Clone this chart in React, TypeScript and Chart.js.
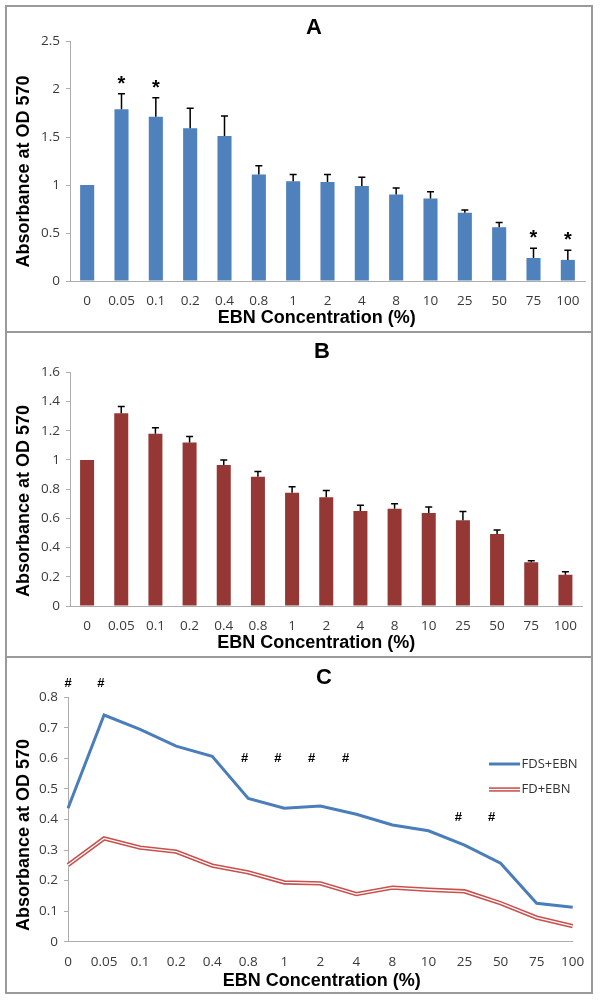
import React, { useEffect, useRef } from "react";
import { Chart, registerables } from "chart.js";
Chart.register(...registerables);

// ---------- data ----------
const categories = ["0", "0.05", "0.1", "0.2", "0.4", "0.8", "1", "2", "4", "8", "10", "25", "50", "75", "100"];

const valuesA = [1.0, 1.79, 1.71, 1.59, 1.51, 1.11, 1.04, 1.03, 0.99, 0.9, 0.86, 0.71, 0.56, 0.24, 0.22];
const errorsA = [0, 0.16, 0.2, 0.21, 0.21, 0.09, 0.07, 0.08, 0.09, 0.07, 0.07, 0.03, 0.05, 0.1, 0.1];
const starIndexA = [1, 2, 13, 14];
const yTicksA = [0, 0.5, 1, 1.5, 2, 2.5];

const valuesB = [1.0, 1.32, 1.18, 1.12, 0.965, 0.885, 0.775, 0.745, 0.65, 0.665, 0.637, 0.587, 0.493, 0.3, 0.214];
const errorsB = [0, 0.045, 0.04, 0.04, 0.035, 0.035, 0.042, 0.045, 0.04, 0.035, 0.04, 0.06, 0.027, 0.01, 0.021];
const yTicksB = [0, 0.2, 0.4, 0.6, 0.8, 1, 1.2, 1.4, 1.6];

const fdsEbn = [0.437, 0.742, 0.695, 0.64, 0.607, 0.469, 0.437, 0.444, 0.417, 0.382, 0.363, 0.316, 0.257, 0.126, 0.113];
const fdEbn = [0.251, 0.338, 0.308, 0.295, 0.249, 0.227, 0.194, 0.191, 0.156, 0.177, 0.17, 0.165, 0.126, 0.079, 0.051];
const hashX = [0, 0.91, 4.9, 5.82, 6.76, 7.7, 10.83, 11.75];
const hashY = [0.847, 0.847, 0.6, 0.6, 0.6, 0.6, 0.407, 0.407];
const yTicksC = [0, 0.1, 0.2, 0.3, 0.4, 0.5, 0.6, 0.7, 0.8];
const seriesNamesC = ["FDS+EBN", "FD+EBN"];

// ---------- styles ----------
const W = 600;
const AXIS = "#ADADAD";
const TICK = "#3a3a3a";
const FONT_TICK = '"Open Sans", sans-serif';
const FONT_BOLD = '"Liberation Sans", Arial, sans-serif';
const BLUE_BAR = "#4F81BD";
const RED_BAR = "#953735";
const BLUE_LINE = "#4A7EBB";
const RED_LINE = "#C8504D";

type Area = { left: number; right: number; top: number; bottom: number };

function xScale(H: number, area: Area, offset: boolean) {
  return {
    type: "category",
    offset,
    grid: { display: false, drawTicks: false },
    border: { display: true, color: AXIS, width: 1 },
    ticks: {
      color: TICK,
      font: { family: FONT_TICK, size: 13.5 },
      padding: 12.4,
      maxRotation: 0,
      autoSkip: false,
    },
    afterFit: (s: any) => {
      s.height = H - area.bottom;
    },
  };
}

function yScale(ticks: number[], area: Area) {
  return {
    type: "linear",
    min: ticks[0],
    max: ticks[ticks.length - 1],
    grid: { display: true, drawOnChartArea: false, drawTicks: true, tickLength: 4, color: AXIS },
    border: { display: true, color: AXIS, width: 1 },
    ticks: {
      color: TICK,
      font: { family: FONT_TICK, size: 13.5 },
      padding: 6,
      callback: (v: any) => String(Math.round(Number(v) * 1000) / 1000),
    },
    afterBuildTicks: (s: any) => {
      s.ticks = ticks.map((v) => ({ value: v }));
    },
    afterFit: (s: any) => {
      s.width = area.left;
    },
  };
}

function textPlugin(letter: string, lx: number, ly: number, yTitleY: number, xTitleX: number, xTitleY: number) {
  return {
    id: "texts" + letter,
    afterDraw(chart: any) {
      const ctx = chart.ctx;
      ctx.save();
      ctx.fillStyle = "#000";
      ctx.textAlign = "center";
      ctx.textBaseline = "middle";
      ctx.font = `bold 22px ${FONT_BOLD}`;
      ctx.fillText(letter, lx, ly);
      ctx.font = `bold 18px ${FONT_BOLD}`;
      ctx.fillText("EBN Concentration (%)", xTitleX, xTitleY);
      ctx.translate(24, yTitleY);
      ctx.rotate(-Math.PI / 2);
      ctx.fillText("Absorbance at OD 570", 0, 0);
      ctx.restore();
    },
  };
}

function errorPlugin(values: number[], errors: number[], stars: number[]) {
  return {
    id: "errbars",
    afterDatasetsDraw(chart: any) {
      const ctx = chart.ctx;
      const y = chart.scales.y;
      const meta = chart.getDatasetMeta(0);
      ctx.save();
      ctx.strokeStyle = "#000";
      ctx.lineWidth = 1.5;
      meta.data.forEach((bar: any, i: number) => {
        const e = errors[i];
        const top = y.getPixelForValue(values[i] + e);
        if (e > 0) {
          const base = y.getPixelForValue(values[i]);
          ctx.beginPath();
          ctx.moveTo(bar.x, base);
          ctx.lineTo(bar.x, top);
          ctx.moveTo(bar.x - 3.5, top);
          ctx.lineTo(bar.x + 3.5, top);
          ctx.stroke();
        }
        if (stars.includes(i)) {
          ctx.fillStyle = "#000";
          ctx.font = `bold 20px ${FONT_BOLD}`;
          ctx.textAlign = "center";
          ctx.textBaseline = "alphabetic";
          ctx.fillText("*", bar.x, top - 4);
        }
      });
      ctx.restore();
    },
  };
}

const hashPlugin = {
  id: "hashes",
  afterDatasetsDraw(chart: any) {
    const ctx = chart.ctx;
    const x = chart.scales.x;
    const y = chart.scales.y;
    ctx.save();
    ctx.fillStyle = "#000";
    ctx.font = `bold 13px ${FONT_BOLD}`;
    ctx.textAlign = "center";
    ctx.textBaseline = "middle";
    hashX.forEach((hx, i) => {
      ctx.fillText("#", x.getPixelForValue(hx), y.getPixelForValue(hashY[i]));
    });
    ctx.restore();
  },
};

const legendPlugin = {
  id: "legendC",
  afterDraw(chart: any) {
    const ctx = chart.ctx;
    ctx.save();
    const rows = [107, 132.5];
    ctx.lineCap = "butt";
    ctx.strokeStyle = BLUE_LINE;
    ctx.lineWidth = 3;
    ctx.beginPath();
    ctx.moveTo(489, rows[0]);
    ctx.lineTo(520, rows[0]);
    ctx.stroke();
    ctx.strokeStyle = RED_LINE;
    ctx.lineWidth = 4.4;
    ctx.beginPath();
    ctx.moveTo(489, rows[1]);
    ctx.lineTo(520, rows[1]);
    ctx.stroke();
    ctx.strokeStyle = "#fff";
    ctx.lineWidth = 1.3;
    ctx.beginPath();
    ctx.moveTo(489, rows[1]);
    ctx.lineTo(520, rows[1]);
    ctx.stroke();
    ctx.fillStyle = "#333";
    ctx.font = `13px ${FONT_TICK}`;
    ctx.textAlign = "left";
    ctx.textBaseline = "middle";
    ctx.fillText(seriesNamesC[0], 521.5, rows[0]);
    ctx.fillText(seriesNamesC[1], 521.5, rows[1]);
    ctx.restore();
  },
};

function barConfig(H: number, area: Area, values: number[], errors: number[], stars: number[], color: string, yTicks: number[], letter: string, lx: number, ly: number, yTitleY: number, xTitleX: number, xTitleY: number) {
  return {
    type: "bar",
    data: {
      labels: categories,
      datasets: [
        {
          data: values,
          backgroundColor: color,
          borderWidth: 0,
          barPercentage: 0.41,
          categoryPercentage: 1,
        },
      ],
    },
    options: {
      responsive: false,
      animation: false,
      events: [],
      layout: { padding: { left: 0, top: area.top, right: W - area.right, bottom: 0 } },
      plugins: { legend: { display: false }, tooltip: { enabled: false }, title: { display: false } },
      scales: { x: xScale(H, area, true), y: yScale(yTicks, area) },
    },
    plugins: [errorPlugin(values, errors, stars), textPlugin(letter, lx, ly, yTitleY, xTitleX, xTitleY)],
  };
}

function lineConfig(H: number, area: Area) {
  return {
    type: "line",
    data: {
      labels: categories,
      datasets: [
        {
          label: seriesNamesC[1] + " inner",
          data: fdEbn,
          borderColor: "#fff",
          borderWidth: 1.3,
          pointRadius: 0,
          tension: 0,
          fill: false,
          order: 0,
        },
        {
          label: seriesNamesC[1],
          data: fdEbn,
          borderColor: RED_LINE,
          borderWidth: 4.4,
          pointRadius: 0,
          tension: 0,
          fill: false,
          order: 1,
        },
        {
          label: seriesNamesC[0],
          data: fdsEbn,
          borderColor: BLUE_LINE,
          borderWidth: 3,
          pointRadius: 0,
          tension: 0,
          fill: false,
          order: 2,
        },
      ],
    },
    options: {
      responsive: false,
      animation: false,
      events: [],
      layout: { padding: { left: 0, top: area.top, right: W - area.right, bottom: 0 } },
      plugins: { legend: { display: false }, tooltip: { enabled: false }, title: { display: false } },
      scales: { x: xScale(H, area, false), y: yScale(yTicksC, area) },
    },
    plugins: [hashPlugin, legendPlugin, textPlugin("C", 324, 21.3, 178, 321.7, 324)],
  };
}

function ChartCanvas({ top, height, make }: { top: number; height: number; make: () => any }) {
  const ref = useRef<HTMLCanvasElement | null>(null);
  useEffect(() => {
    if (!ref.current) return;
    const chart = new Chart(ref.current, make());
    return () => chart.destroy();
  }, []);
  return (
    <canvas
      ref={ref}
      width={W}
      height={height}
      style={{ position: "absolute", left: 0, top, width: W, height }}
    />
  );
}

const boxStyle = (top: number, height: number): React.CSSProperties => ({
  position: "absolute",
  left: 5,
  top,
  width: 588,
  height,
  border: "2px solid #9a9a9a",
  boxSizing: "border-box",
  pointerEvents: "none",
});

export default function App() {
  const HA = 332;
  const HB = 325;
  const HC = 348;
  const areaA: Area = { left: 70, right: 585, top: 41, bottom: 281 };
  const areaB: Area = { left: 70, right: 582.5, top: 40.3, bottom: 274 };
  const areaC: Area = { left: 68, right: 572.7, top: 40.3, bottom: 284.7 };
  return (
    <div style={{ position: "absolute", left: 0, top: 0, width: W, height: 1005, background: "#fff" }}>
      <ChartCanvas
        top={0}
        height={HA}
        make={() => barConfig(HA, areaA, valuesA, errorsA, starIndexA, BLUE_BAR, yTicksA, "A", 314, 28.3, 171.5, 316.8, 318.3)}
      />
      <ChartCanvas
        top={332}
        height={HB}
        make={() => barConfig(HB, areaB, valuesB, errorsB, [], RED_BAR, yTicksB, "B", 322, 19.5, 169, 316.3, 311.3)}
      />
      <ChartCanvas top={657} height={HC} make={() => lineConfig(HC, areaC)} />
      <div style={boxStyle(5, 328)} />
      <div style={boxStyle(331, 327)} />
      <div style={boxStyle(656, 338)} />
    </div>
  );
}
